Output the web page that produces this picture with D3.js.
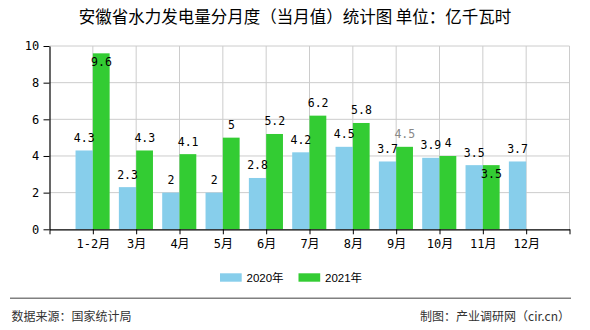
<!DOCTYPE html>
<html><head><meta charset="utf-8">
<script src="https://cdn.jsdelivr.net/npm/d3@7/dist/d3.min.js"></script>
<style>
body{margin:0;background:#fff;}
svg{display:block;}
</style></head>
<body>
<script>
const categories = ["1-2月","3月","4月","5月","6月","7月","8月","9月","10月","11月","12月"];
const series2020 = [4.3,2.3,2,2,2.8,4.2,4.5,3.7,3.9,3.5,3.7];
const series2021 = [9.6,4.3,4.1,5,5.2,6.2,5.8,4.5,4,3.5,null];
const yTicks = [0,2,4,6,8,10];
const seriesNames = ["2020年","2021年"];
const colors = ["#87CEEB","#33CC33"];
const title = "安徽省水力发电量分月度（当月值）统计图 单位：亿千瓦时";
const sourceText = "数据来源：国家统计局";
const makerText = "制图：产业调研网（cir.cn）";

const W = 590, H = 330;
const L = 49.5, R = 569.5, T = 46, B = 229.3;
const monoFont = "'DejaVu Sans Mono','Noto Sans CJK SC',monospace";
const cjkFont = "'Noto Sans CJK SC',sans-serif";

const svg = d3.select("body").append("svg").attr("width", W).attr("height", H);

const pad = ["_a", ...categories, "_b"];
const x = d3.scalePoint().domain(pad).range([L, R]);
const y = d3.scaleLinear().domain([0, 10]).range([B, T]);
const bw = 17.3;

// title
svg.append("text").attr("x", 295).attr("y", 22.5).attr("text-anchor", "middle")
  .style("font-family", cjkFont).style("font-size", "16.5px").attr("fill", "#000").text(title);

// horizontal grid
svg.append("g").selectAll("line").data(yTicks.filter(d => d > 0)).join("line")
  .attr("x1", L).attr("x2", R).attr("y1", d => y(d)).attr("y2", d => y(d))
  .attr("stroke", "#cccccc").attr("stroke-width", 1);
// vertical grid
svg.append("g").selectAll("line").data(pad.slice(1)).join("line")
  .attr("x1", d => x(d)).attr("x2", d => x(d)).attr("y1", T).attr("y2", B)
  .attr("stroke", "#cccccc").attr("stroke-width", 1);

// bars
const g = svg.append("g");
categories.forEach((c, i) => {
  const cx = x(c);
  const v1 = series2020[i], v2 = series2021[i];
  g.append("rect").attr("x", cx - bw).attr("width", bw)
    .attr("y", y(v1)).attr("height", y(0) - y(v1)).attr("fill", colors[0]);
  if (v2 != null) {
    g.append("rect").attr("x", cx).attr("width", bw - 0.5)
      .attr("y", y(v2)).attr("height", y(0) - y(v2)).attr("fill", colors[1]);
  }
});

// value labels
const lab = svg.append("g").style("font-family", monoFont).style("font-size", "11.5px");
categories.forEach((c, i) => {
  const cx = x(c);
  const v1 = series2020[i], v2 = series2021[i];
  lab.append("text").attr("x", cx - bw / 2).attr("y", y(v1) - 8.5)
    .attr("text-anchor", "middle").attr("fill", "#000").text(v1);
  if (v2 != null) {
    const inside = (y(v2) - 20 < T) || Math.abs(v2 - v1) < 0.05;
    lab.append("text").attr("x", cx + bw / 2)
      .attr("y", inside ? y(v2) + 12.5 : y(v2) - 8.5)
      .attr("text-anchor", "middle")
      .attr("fill", i === 7 ? "#888" : "#000").text(v2);
  }
});

// y axis
const yAxis = svg.append("g").attr("transform", `translate(${L},0)`)
  .call(d3.axisLeft(y).tickValues(yTicks).tickSize(6).tickSizeOuter(0));
yAxis.select(".domain").attr("stroke", "#000").attr("stroke-width", 1.2);
yAxis.selectAll(".tick line").attr("stroke", "#000");
yAxis.selectAll("text").style("font-family", monoFont).style("font-size", "12px").attr("fill", "#000").attr("dx", "-0.1em");

// x axis
const xAxis = svg.append("g").attr("transform", `translate(0,${B})`)
  .call(d3.axisBottom(x).tickSize(5).tickSizeOuter(0).tickFormat(d => d.startsWith("_") ? "" : d));
xAxis.select(".domain").attr("stroke", "#000").attr("stroke-width", 1.2);
xAxis.selectAll(".tick line").attr("stroke", "#000");
xAxis.selectAll("text").style("font-family", monoFont).style("font-size", "12px").attr("fill", "#000").attr("dy", "0.9em");

// legend
const leg = svg.append("g");
const legX = [220, 298.5];
seriesNames.forEach((n, i) => {
  leg.append("rect").attr("x", legX[i]).attr("y", 273.3).attr("width", 21.7).attr("height", 8.4).attr("fill", colors[i]);
  leg.append("text").attr("x", legX[i] + 26.5).attr("y", 281.5)
    .style("font-family", "'Liberation Sans',Arial,'Noto Sans CJK SC',sans-serif").style("font-size", "11.5px")
    .attr("fill", "#000").text(n);
});

// separator
svg.append("line").attr("x1", 10).attr("x2", 571).attr("y1", 298.3).attr("y2", 298.3)
  .attr("stroke", "#808080").attr("stroke-width", 1.5);

// footer
svg.append("text").attr("x", 11.5).attr("y", 321).style("font-family", cjkFont).style("font-size", "12px")
  .attr("fill", "#333").text(sourceText);
svg.append("text").attr("x", 570).attr("y", 321).attr("text-anchor", "end").style("font-family", cjkFont).style("font-size", "12px")
  .attr("fill", "#333").text(makerText);
</script>
</body></html>
